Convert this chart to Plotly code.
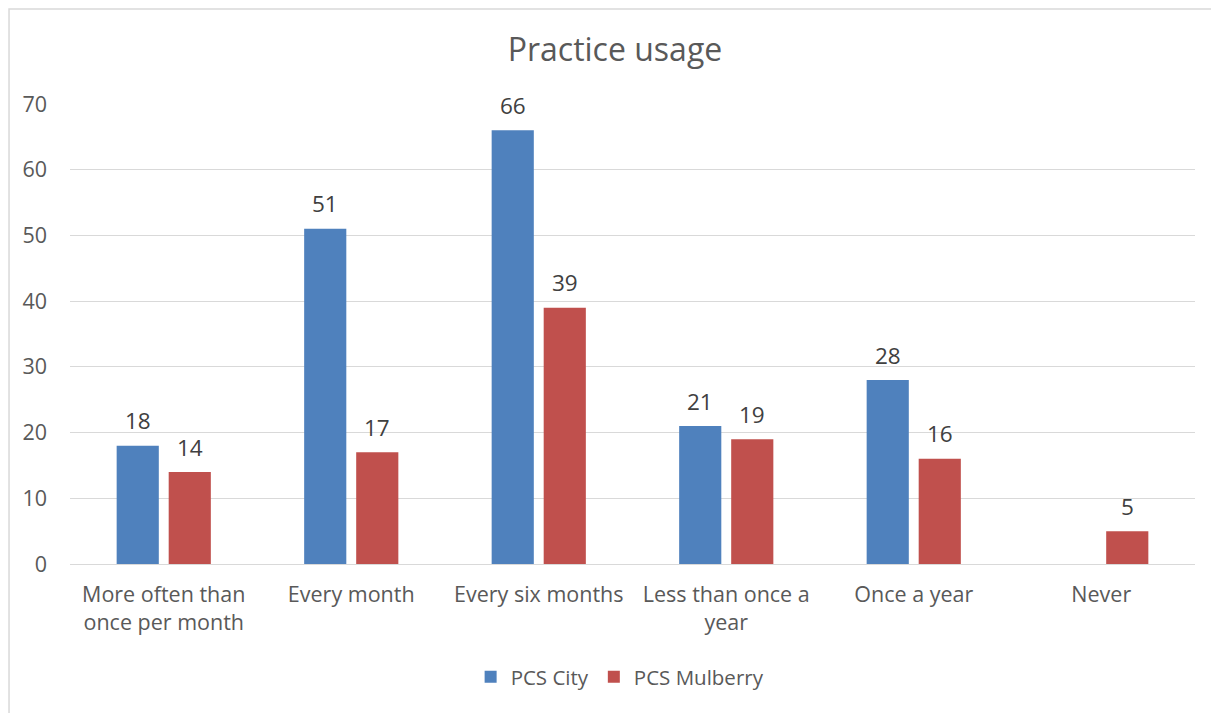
import plotly.graph_objects as go

categories = ["More often than<br>once per month", "Every month", "Every six months",
              "Less than once a<br>year", "Once a year", "Never"]
pcs_city = [18, 51, 66, 21, 28, None]
pcs_mulberry = [14, 17, 39, 19, 16, 5]
y_ticks = [0, 10, 20, 30, 40, 50, 60, 70]

FONT = "Open Sans, sans-serif"
series = [("PCS City", pcs_city, "#4F81BD", -26),
          ("PCS Mulberry", pcs_mulberry, "#C0504D", 26)]

fig = go.Figure()
for name, vals, col, dx in series:
    fig.add_trace(go.Bar(x=categories, y=vals, name=name,
                         marker=dict(color=col, line=dict(width=0))))
    # value labels sit a little higher above the bars than plotly's outside text
    for cat, v in zip(categories, vals):
        if v is None:
            continue
        fig.add_annotation(x=cat, y=v, text=str(v), showarrow=False, xref="x", yref="y",
                           xshift=dx, yshift=25, yanchor="middle",
                           font=dict(size=22.5, color="#404040", family=FONT))

# page body adds 8px margin, so the figure is a little smaller than the window
fig.update_layout(
    width=1211, height=705,
    paper_bgcolor="white", plot_bgcolor="white",
    margin=dict(l=62, r=24, t=96, b=149),
    barmode="group", bargap=0.445, bargroupgap=0.19,
    font=dict(family=FONT, color="#595959", size=21),
    title=dict(text="Practice usage", x=0.5012, xanchor="center", y=0.9404, yanchor="middle",
               font=dict(size=32, color="#595959", family=FONT)),
    legend=dict(orientation="h", x=0.489, xanchor="center", y=-0.2457, yanchor="middle",
                font=dict(size=20.5, color="#595959"), traceorder="normal"),
    showlegend=True,
)
fig.update_yaxes(range=[0, 70], tickvals=y_ticks, showgrid=True, gridcolor="#D9D9D9",
                 gridwidth=1, zeroline=False, showline=False, ticks="",
                 tickfont=dict(size=21.5, color="#595959"), ticklabelstandoff=22)
fig.update_xaxes(showline=True, linecolor="#D9D9D9", linewidth=1, ticks="",
                 tickfont=dict(size=21.5, color="#595959"), showgrid=False,
                 ticklabelstandoff=11)

fig.add_shape(type="rect", xref="paper", yref="paper", x0=-0.0542, x1=1.0196, y0=-0.34, y1=1.2065,
              line=dict(color="#D9D9D9", width=1.5), fillcolor="rgba(0,0,0,0)", layer="below")

fig.write_html("out.html")
